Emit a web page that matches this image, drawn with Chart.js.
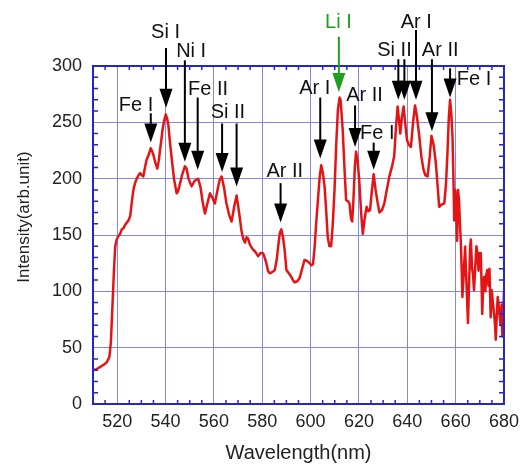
<!DOCTYPE html>
<html>
<head>
<meta charset="utf-8">
<script src="https://cdn.jsdelivr.net/npm/chart.js@4.4.0/dist/chart.umd.min.js"></script>
<style>
    html, body { margin: 0; padding: 0; background: #fff; }
    canvas { display: block; }
</style>
</head>
<body>
<canvas id="spectrum" width="526" height="465"></canvas>
<script>
// wavelength (nm) and intensity
const wavelength = [
    510.0, 511.5, 513.0, 514.5, 515.7, 516.8, 517.4, 517.8, 518.2, 518.7, 519.2, 519.8,
    520.5, 521.2, 521.9, 522.6, 523.3, 524.0, 524.7, 525.4, 526.0, 526.7, 527.4, 528.1,
    528.8, 529.5, 530.2, 530.8, 531.5, 532.2, 533.0, 533.9, 534.5, 535.0, 535.8, 536.6,
    537.2, 537.7, 538.3, 538.8, 539.5, 540.1, 540.7, 541.2, 541.8, 542.5, 543.5, 544.6,
    545.2, 545.7, 546.8, 548.0, 548.7, 549.5, 550.8, 552.0, 553.5, 554.5, 555.3, 556.3,
    557.3, 558.4, 559.4, 560.4, 561.5, 562.4, 563.2, 564.2, 565.2, 566.3, 567.3, 568.4,
    569.4, 570.3, 571.4, 572.1, 572.8, 573.5, 574.1, 575.0, 576.2, 577.2, 578.3, 579.3,
    580.3, 581.0, 581.7, 582.4, 583.1, 584.0, 585.2, 586.0, 586.6, 587.3, 587.9, 588.6,
    589.3, 590.0, 591.0, 592.0, 592.7, 593.4, 594.5, 595.5, 596.5, 597.5, 598.5, 599.6,
    600.4, 601.0, 601.7, 602.3, 603.0, 603.7, 604.4, 605.1, 605.8, 606.5, 607.1, 607.8,
    608.5, 609.2, 609.9, 610.6, 611.3, 612.0, 612.4, 613.3, 614.0, 614.7, 615.4, 616.1,
    616.7, 617.2, 617.7, 618.3, 618.8, 619.5, 620.2, 620.9, 621.6, 622.4, 623.2, 623.9,
    624.6, 625.3, 626.1, 626.9, 627.8, 628.5, 629.5, 630.5, 631.5, 632.6, 633.6, 634.6,
    635.3, 636.0, 636.6, 637.1, 637.8, 638.5, 639.2, 639.9, 640.7, 641.5, 642.4, 643.2,
    644.0, 645.0, 645.8, 646.7, 647.5, 648.4, 649.3, 650.0, 650.9, 651.8, 652.5, 653.2,
    654.2, 655.3, 656.0, 656.6, 657.2, 657.7, 658.2, 658.7, 659.1, 659.4, 659.8, 660.1,
    660.6, 661.0, 661.4, 661.8, 662.1, 662.5, 662.8, 663.2, 663.5, 663.9, 664.2, 664.7,
    665.1, 665.6, 666.0, 666.3, 666.8, 667.2, 667.6, 668.2, 668.6, 669.0, 669.4, 669.7,
    670.1, 670.4, 670.8, 671.0, 671.4, 671.8, 672.3, 672.7, 673.1, 673.6, 674.0, 674.5,
    674.9, 675.4, 675.9, 676.3, 676.6, 677.0, 677.4, 678.0, 678.6, 679.0, 679.3, 679.7,
    680.0
];
const intensity = [
    30, 31, 33, 35, 37, 42, 55, 75, 95, 120, 140, 146,
    149, 151, 155, 156, 159, 161, 163, 167, 178, 190, 196, 200,
    203, 205, 203, 202, 210, 217, 221, 227, 224, 221, 214, 209,
    216, 225, 235, 244, 252, 257, 253, 247, 233, 219, 200, 187,
    189, 193, 203, 211, 209, 200, 193, 198, 200, 192, 180, 169,
    178, 187, 183, 178, 190, 199, 202, 192, 178, 168, 162, 175,
    185, 172, 154, 147, 143, 148, 147, 141, 137, 135, 131, 134,
    134, 130, 125, 118, 116, 117, 119, 128, 140, 152, 155, 148,
    136, 119, 116, 113, 110, 108, 109, 112, 120, 128, 127, 125,
    123, 124, 140, 160, 180, 200, 212, 205, 193, 170, 148, 140,
    140, 160, 190, 230, 261, 272, 270, 243, 210, 181, 180, 178,
    165, 162, 180, 210, 224, 215, 196, 170, 151, 165, 175, 171,
    172, 188, 204, 190, 178, 170, 172, 178, 190, 202, 210, 220,
    245, 264, 252, 240, 255, 264, 248, 234, 230, 228, 250, 265,
    255, 237, 220, 208, 203, 202, 220, 238, 230, 214, 195, 175,
    177, 178, 195, 222, 255, 270, 258, 237, 200, 163, 190, 184,
    145, 190, 181, 160, 146, 120, 95, 110, 122, 140, 122, 95,
    72, 110, 140, 146, 120, 115, 101, 125, 140, 134, 118, 134,
    120, 134, 100, 80, 105, 113, 100, 115, 119, 105, 120, 77,
    101, 90, 80, 70, 57, 78, 95, 83, 70, 88, 60, 75,
    100
];
const xTicks = [520, 540, 560, 580, 600, 620, 640, 660, 680];

// line labels: text, wavelength, intensity at label centre
const labelText = ['Fe I', 'Si I', 'Ni I', 'Fe II', 'Si II', 'Ar II', 'Li I', 'Ar I', 'Ar II', 'Fe I', 'Si II', 'Ar I', 'Ar II', 'Fe I'];
const labelNm = [527.8, 540.0, 550.6, 557.6, 565.8, 589.3, 611.5, 601.7, 622.3, 627.6, 634.7, 643.7, 653.6, 667.6];
const labelVal = [265, 330, 313, 279, 259, 206, 339, 280, 274, 240, 314, 339, 314, 288];
const labelGreen = [false, false, false, false, false, false, true, false, false, false, false, false, false, false];

// arrows: wavelength, tail intensity, tip intensity
const arrowNm = [533.9, 540.2, 548.0, 553.3, 563.4, 569.4, 587.6, 611.7, 604.0, 618.4, 626.1, 636.3, 638.8, 643.6, 650.2, 657.7];
const arrowTail = [258, 316, 305, 272, 249, 249, 196, 326, 272, 265, 232, 306, 306, 332, 306, 298];
const arrowTip = [232, 263, 215, 208, 206, 193, 161, 277, 218, 228, 208, 270, 270, 270, 242, 272];
const arrowGreen = [false, false, false, false, false, false, false, true, false, false, false, false, false, false, false, false];

const FONT = "'Liberation Sans', Arial, sans-serif";
const BORDER = '#2626c8';
const GRID = '#8686e6';
const GREEN = '#1ea01e';

const frameAndTicks = {
    id: 'frameAndTicks',
    afterDatasetsDraw(chart) {
        const { ctx, chartArea: a, scales: { x, y } } = chart;
        ctx.save();
        ctx.strokeStyle = BORDER;
        ctx.lineWidth = 1.5;
        ctx.beginPath();
        for (let v = 510; v <= 680; v += 5) {
            if (v % 20 === 0) continue;
            const px = x.getPixelForValue(v);
            ctx.moveTo(px, a.bottom); ctx.lineTo(px, a.bottom - 4);
            ctx.moveTo(px, a.top); ctx.lineTo(px, a.top + 4);
        }
        for (let v = 0; v <= 300; v += 10) {
            if (v % 50 === 0) continue;
            const py = y.getPixelForValue(v);
            ctx.moveTo(a.left, py); ctx.lineTo(a.left + 5, py);
            ctx.moveTo(a.right, py); ctx.lineTo(a.right - 5, py);
        }
        ctx.stroke();
        ctx.lineWidth = 2;
        ctx.strokeRect(a.left, a.top, a.right - a.left, a.bottom - a.top);

        // y title, drawn by hand so it can sit a little above centre
        ctx.fillStyle = '#222';
        ctx.font = '17px ' + FONT;
        ctx.textAlign = 'center';
        ctx.textBaseline = 'middle';
        ctx.translate(24, 217);
        ctx.rotate(-Math.PI / 2);
        ctx.fillText('Intensity(arb.unit)', 0, 0);
        ctx.restore();
    }
};

const lineMarks = {
    id: 'lineMarks',
    afterDraw(chart) {
        const { ctx, scales: { x, y } } = chart;
        ctx.save();
        arrowNm.forEach((nm, i) => {
            const px = x.getPixelForValue(nm);
            const y0 = y.getPixelForValue(arrowTail[i]);
            const y1 = y.getPixelForValue(arrowTip[i]);
            const col = arrowGreen[i] ? GREEN : '#000';
            ctx.strokeStyle = col;
            ctx.fillStyle = col;
            ctx.lineWidth = 2;
            ctx.beginPath();
            ctx.moveTo(px, y0);
            ctx.lineTo(px, y1 - 16);
            ctx.stroke();
            ctx.beginPath();
            ctx.moveTo(px - 6.5, y1 - 19);
            ctx.lineTo(px + 6.5, y1 - 19);
            ctx.lineTo(px, y1);
            ctx.closePath();
            ctx.fill();
        });
        ctx.font = '20px ' + FONT;
        ctx.textAlign = 'center';
        ctx.textBaseline = 'middle';
        labelText.forEach((t, i) => {
            ctx.fillStyle = labelGreen[i] ? GREEN : '#111';
            ctx.fillText(t, x.getPixelForValue(labelNm[i]), y.getPixelForValue(labelVal[i]));
        });
        ctx.restore();
    }
};

const points = wavelength.map((w, i) => ({ x: w, y: intensity[i] }));

new Chart(document.getElementById('spectrum'), {
    type: 'line',
    data: {
        datasets: [{
            data: points,
            borderColor: '#e41414',
            borderWidth: 2.5,
            borderJoinStyle: 'round',
            borderCapStyle: 'round',
            pointRadius: 0,
            fill: false,
            // a tiny tension keeps Chart.js off its pixel-merging fast path
            tension: 0.01
        }]
    },
    options: {
        responsive: false,
        devicePixelRatio: 1,
        animation: false,
        layout: { padding: { left: 0, right: 21, top: 66, bottom: 0 } },
        plugins: { legend: { display: false }, tooltip: { enabled: false } },
        scales: {
            x: {
                type: 'linear',
                min: 510,
                max: 680,
                afterBuildTicks: (scale) => { scale.ticks = xTicks.map(v => ({ value: v })); },
                afterFit: (scale) => { scale.height = 61; },
                grid: { color: GRID, lineWidth: 1, drawTicks: false },
                border: { display: false },
                ticks: { color: '#222', font: { size: 18, family: FONT }, padding: 7, maxRotation: 0 },
                title: { display: true, text: 'Wavelength(nm)', color: '#222', font: { size: 20, family: FONT }, padding: { top: 0, bottom: 0 } }
            },
            y: {
                min: 0,
                max: 300,
                afterFit: (scale) => { scale.width = 93; },
                grid: { color: GRID, lineWidth: 1, drawTicks: false },
                border: { display: false },
                ticks: { stepSize: 50, color: '#222', font: { size: 18, family: FONT }, padding: 11 }
            }
        }
    },
    plugins: [frameAndTicks, lineMarks]
});
</script>
</body>
</html>
